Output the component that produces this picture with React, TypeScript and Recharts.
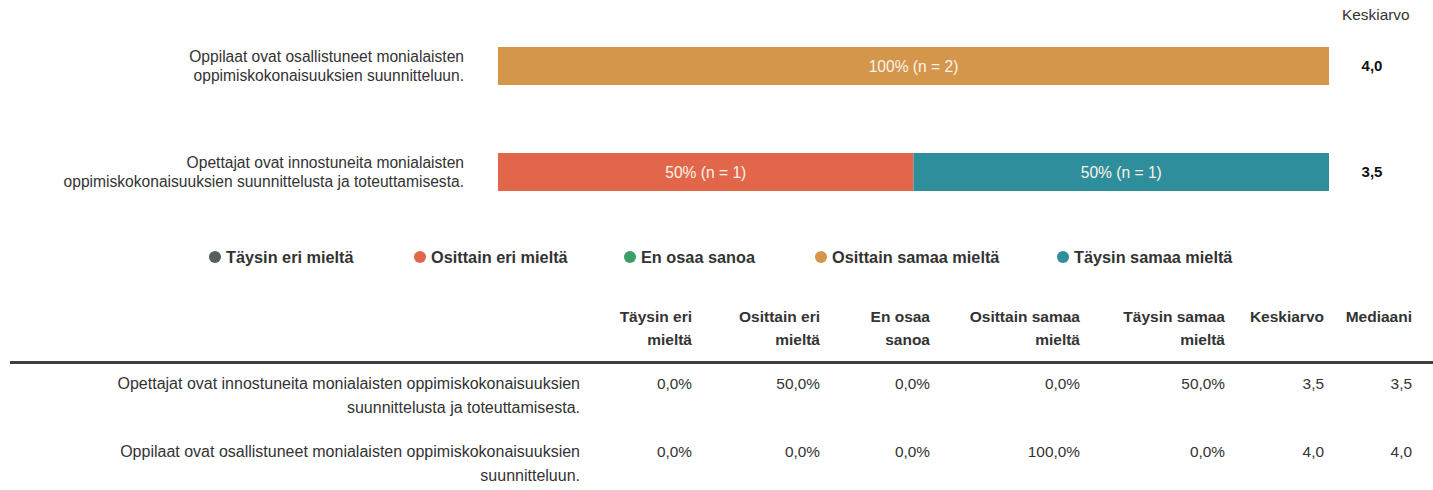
import React from "react";
import { Bar, BarChart, LabelList, Legend, XAxis, YAxis } from "recharts";

// kysymykset kaavion järjestyksessä (ylhäältä alas)
const chartLabels = [
  ["Oppilaat ovat osallistuneet monialaisten", "oppimiskokonaisuuksien suunnitteluun."],
  ["Opettajat ovat innostuneita monialaisten", "oppimiskokonaisuuksien suunnittelusta ja toteuttamisesta."],
];
const tableLabels = [
  ["Oppilaat ovat osallistuneet monialaisten oppimiskokonaisuuksien", "suunnitteluun."],
  ["Opettajat ovat innostuneita monialaisten oppimiskokonaisuuksien", "suunnittelusta ja toteuttamisesta."],
];
const respondents = [2, 2];

const taysinEri = [0, 0];
const osittainEri = [0, 50];
const enOsaa = [0, 0];
const osittainSamaa = [100, 0];
const taysinSamaa = [0, 50];

const keskiarvo = [4.0, 3.5];
const mediaani = [4.0, 3.5];

// taulukossa rivit ovat päinvastaisessa järjestyksessä
const tableOrder = [1, 0];

const series = [
  { key: "taysinEri", name: "Täysin eri mieltä", header: ["Täysin eri", "mieltä"], values: taysinEri, color: "#56605f" },
  { key: "osittainEri", name: "Osittain eri mieltä", header: ["Osittain eri", "mieltä"], values: osittainEri, color: "#e2674a" },
  { key: "enOsaa", name: "En osaa sanoa", header: ["En osaa", "sanoa"], values: enOsaa, color: "#3c9e69" },
  { key: "osittainSamaa", name: "Osittain samaa mieltä", header: ["Osittain samaa", "mieltä"], values: osittainSamaa, color: "#d4964a" },
  { key: "taysinSamaa", name: "Täysin samaa mieltä", header: ["Täysin samaa", "mieltä"], values: taysinSamaa, color: "#2f8e9b" },
];

const data = chartLabels.map((lines, i) => {
  const row: Record<string, any> = { name: lines.join(" "), idx: i };
  series.forEach((s) => (row[s.key] = s.values[i]));
  return row;
});

const fi = (v: number, d = 1) => v.toFixed(d).replace(".", ",");

const FONT = '"Liberation Sans", Arial, sans-serif';

function LeftTick({ x, y, payload }: any) {
  const lines = chartLabels[payload.index] || [];
  return (
    <text x={x} y={y} textAnchor="end" fill="#333" fontSize={15.6} fontFamily={FONT}>
      {lines.map((l, i) => (
        <tspan key={i} x={x} dy={i === 0 ? -4 : 18.5}>
          {l}
        </tspan>
      ))}
    </text>
  );
}

function RightTick({ x, y, payload }: any) {
  return (
    <text x={x} y={y} dy={5} textAnchor="middle" fill="#111" fontSize={15} fontWeight="bold" fontFamily={FONT}>
      {fi(keskiarvo[payload.index])}
    </text>
  );
}

const legendX = [215, 420, 630, 821, 1063];

function LegendContent() {
  return (
    <div style={{ position: "relative", height: 20, fontFamily: FONT }}>
      {series.map((s, i) => (
        <div
          key={s.key}
          style={{ position: "absolute", left: legendX[i] - 6, top: 0, display: "flex", alignItems: "center", whiteSpace: "nowrap" }}
        >
          <span
            style={{ width: 12, height: 12, borderRadius: 6, background: s.color, display: "inline-block", marginRight: 5 }}
          />
          <span style={{ fontSize: 16.3, fontWeight: "bold", color: "#333", lineHeight: "20px" }}>{s.name}</span>
        </div>
      ))}
    </div>
  );
}

const colRight = [692, 820, 930, 1080, 1225, 1324, 1412];

export default function App() {
  const headers = [...series.map((s) => s.header), ["Keskiarvo"], ["Mediaani"]];
  return (
    <div
      style={{
        position: "absolute",
        left: 0,
        top: 0,
        width: 1433,
        height: 490,
        background: "#fff",
        fontFamily: FONT,
        color: "#333",
        overflow: "hidden",
      }}
    >
      <div style={{ position: "absolute", left: 1342, top: 6, fontSize: 15.4, color: "#333" }}>Keskiarvo</div>
      <BarChart
        width={1433}
        height={290}
        layout="vertical"
        data={data}
        margin={{ top: 13, right: 0, bottom: 45, left: 0 }}
        barSize={38}
      >
        <XAxis type="number" domain={[0, 100]} hide />
        <YAxis
          yAxisId="left"
          type="category"
          dataKey="name"
          width={498}
          axisLine={false}
          tickLine={false}
          tickSize={0}
          tickMargin={34}
          tick={<LeftTick />}
        />
        <YAxis
          yAxisId="right"
          orientation="right"
          type="category"
          dataKey="name"
          width={104}
          axisLine={false}
          tickLine={false}
          tickSize={0}
          tickMargin={43}
          tick={<RightTick />}
        />
        {series.map((s) => (
          <Bar key={s.key} yAxisId="left" dataKey={s.key} name={s.name} stackId="a" fill={s.color} isAnimationActive={false}>
            <LabelList
              dataKey={s.key}
              position="center"
              fill="#fbf3ea"
              fontSize={15.6}
              fontFamily={FONT}
              formatter={(v: any) => (v ? `${v}% (n = ${Math.round((v / 100) * respondents[0])})` : "")}
            />
          </Bar>
        ))}
        <Legend verticalAlign="bottom" content={<LegendContent />} wrapperStyle={{ left: 0, width: 1433, bottom: 23 }} />
      </BarChart>

      {headers.map((h, c) => (
        <div
          key={c}
          style={{
            position: "absolute",
            right: 1433 - colRight[c],
            top: 305,
            textAlign: "right",
            fontSize: 15.5,
            fontWeight: "bold",
            lineHeight: "23px",
            color: "#333",
            whiteSpace: "nowrap",
          }}
        >
          {h.map((l, i) => (
            <div key={i}>{l}</div>
          ))}
        </div>
      ))}
      <div style={{ position: "absolute", left: 10, top: 361, width: 1423, height: 3, background: "#3f3f3f" }} />
      {tableOrder.map((r, ri) => {
        const top = 372 + ri * 68;
        const vals = [...series.map((s) => fi(s.values[r]) + "%"), fi(keskiarvo[r]), fi(mediaani[r])];
        return (
          <React.Fragment key={r}>
            <div
              style={{
                position: "absolute",
                right: 1433 - 580,
                top,
                textAlign: "right",
                fontSize: 16,
                lineHeight: "24px",
                whiteSpace: "nowrap",
              }}
            >
              {tableLabels[r].map((l, i) => (
                <div key={i}>{l}</div>
              ))}
            </div>
            {vals.map((v, c) => (
              <div
                key={c}
                style={{ position: "absolute", right: 1433 - colRight[c], top, fontSize: 15.4, lineHeight: "24px" }}
              >
                {v}
              </div>
            ))}
          </React.Fragment>
        );
      })}
    </div>
  );
}
